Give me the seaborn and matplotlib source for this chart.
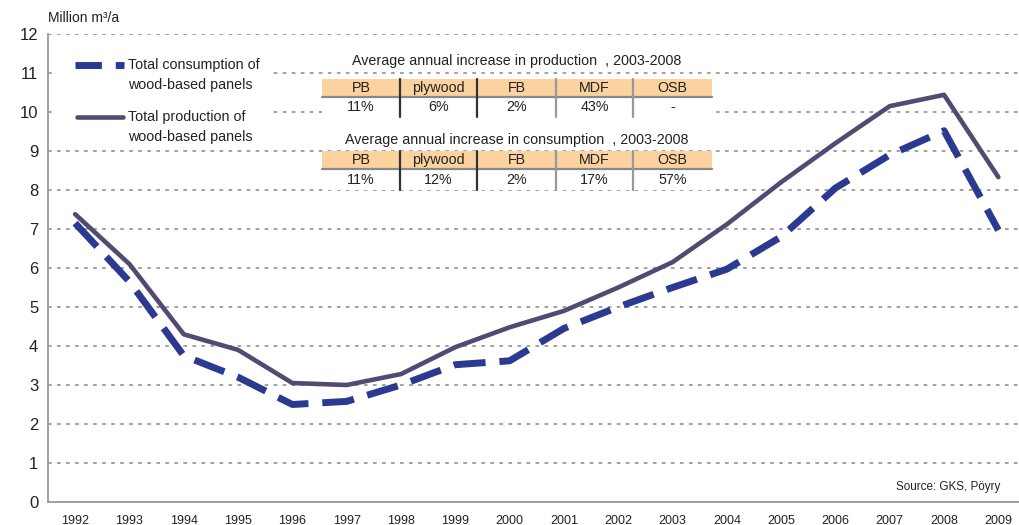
import numpy as np
import pandas as pd
import matplotlib
matplotlib.use("Agg")
import matplotlib.pyplot as plt
from matplotlib.patches import Rectangle
from matplotlib.lines import Line2D
import seaborn as sns

# data (million m3 per year)
years = list(range(1992, 2010))
consumption = [7.15, 5.65, 3.75, 3.2, 2.5, 2.58, 3.0, 3.52, 3.62, 4.45,
               5.0, 5.5, 5.97, 6.8, 8.05, 8.9, 9.52, 6.97]
production = [7.38, 6.1, 4.3, 3.9, 3.05, 3.0, 3.28, 3.97, 4.48, 4.9,
              5.5, 6.15, 7.12, 8.2, 9.2, 10.15, 10.44, 8.33]

panel_types = ["PB", "plywood", "FB", "MDF", "OSB"]
prod_increase = ["11%", "6%", "2%", "43%", "-"]
cons_increase = ["11%", "12%", "2%", "17%", "57%"]

cons_label = "Total consumption of\nwood-based panels"
prod_label = "Total production of\nwood-based panels"

df = pd.DataFrame({"year": years, "consumption": consumption, "production": production})

sns.set_style("white")
plt.rcParams["font.family"] = ["Liberation Sans", "DejaVu Sans"]

W, H = 1019, 525
fig = plt.figure(figsize=(W / 100, H / 100), dpi=100)
ax = fig.add_axes([48 / W, 23 / H, (W - 48) / W, (502 - 34) / H])


def fx(px):
    return px / W


def fy(py):
    return 1 - py / H


cons_color = "#2B3990"
prod_color = "#514B73"
cons_dash = (0, (4.6, 2.0))

sns.lineplot(data=df, x="year", y="production", ax=ax, color=prod_color,
             linewidth=3.3, zorder=3)
sns.lineplot(data=df, x="year", y="consumption", ax=ax, color=cons_color,
             linewidth=5.0, linestyle=cons_dash, zorder=3)

ax.set_xlim(1991.5, 2009.38)
ax.set_ylim(0, 12)
ax.set_yticks(range(0, 13))
ax.set_xticks(years)
ax.set_xticks([y + 0.5 for y in years[:-1]] + [1991.5], minor=True)
ax.tick_params(axis="x", which="major", length=0, labelsize=9, pad=9, colors="#222")
ax.tick_params(axis="x", which="minor", length=4, width=1, color="#999")
ax.tick_params(axis="y", length=3, width=1, color="#999", labelsize=12, pad=4, labelcolor="#222")
ax.set_xlabel("")
ax.set_ylabel("")

ax.yaxis.grid(True, linestyle=(0, (2, 3)), color="#999", linewidth=1.3)
ax.set_axisbelow(True)
for s in ["top", "right"]:
    ax.spines[s].set_visible(False)
for s in ["left", "bottom"]:
    ax.spines[s].set_color("#999")
    ax.spines[s].set_linewidth(1.3)

# legend, drawn by hand so the sample sits beside the first text line
fig.patches.append(Rectangle((fx(55), fy(150)), fx(273 - 55), (150 - 42) / H,
                             transform=fig.transFigure, facecolor="white",
                             edgecolor="none", zorder=4))
fig.lines.append(Line2D([fx(75), fx(124)], [fy(65), fy(65)], transform=fig.transFigure,
                        color=cons_color, linewidth=5.0, linestyle=(0, (3.8, 2.0)), zorder=5))
fig.lines.append(Line2D([fx(77), fx(123)], [fy(117), fy(117)], transform=fig.transFigure,
                        color=prod_color, linewidth=3.3, zorder=5))
for label, ytop in [(cons_label, 65), (prod_label, 117)]:
    fig.text(fx(128), fy(ytop - 7), label, fontsize=10.3, ha="left", va="top",
             linespacing=1.5, color="#222", zorder=6)

fig.text(fx(48), fy(18), "Million m³/a", fontsize=10, va="center", ha="left", color="#222")
fig.text(fx(1000), fy(487), "Source: GKS, Pöyry", fontsize=8.4, va="center", ha="right", color="#222")

# growth tables
col_edges = [322, 400, 477, 556, 633, 712]


def draw_table(title, title_y, head_top, head_bot, row_bot, values):
    fig.text(fx(517), fy(title_y), title, fontsize=10.3, ha="center", va="center",
             color="#222", zorder=6)
    fig.patches.append(Rectangle((fx(322), fy(head_bot)), fx(712 - 322), (head_bot - head_top) / H,
                                 transform=fig.transFigure, facecolor="#FCD29E",
                                 edgecolor="none", zorder=4))
    fig.patches.append(Rectangle((fx(322), fy(row_bot)), fx(712 - 322), (row_bot - head_bot) / H,
                                 transform=fig.transFigure, facecolor="white",
                                 edgecolor="none", zorder=4))
    fig.lines.append(Line2D([fx(322), fx(712)], [fy(head_bot), fy(head_bot)],
                            transform=fig.transFigure, color="#888", linewidth=1.6, zorder=5))
    for i, xe in enumerate(col_edges[1:-1]):
        fig.lines.append(Line2D([fx(xe), fx(xe)], [fy(head_top), fy(row_bot)],
                                transform=fig.transFigure,
                                color="#333" if i < 2 else "#999", linewidth=1.6, zorder=5))
    for i, (name, val) in enumerate(zip(panel_types, values)):
        cx = (col_edges[i] + col_edges[i + 1]) / 2
        fig.text(fx(cx), fy((head_top + head_bot) / 2), name, fontsize=10.3,
                 ha="center", va="center", color="#222", zorder=6)
        fig.text(fx(cx), fy((head_bot + row_bot) / 2), val, fontsize=10.3,
                 ha="center", va="center", color="#222", zorder=6)


draw_table("Average annual increase in production  , 2003-2008", 61, 79, 97, 117, prod_increase)
draw_table("Average annual increase in consumption  , 2003-2008", 140, 151, 169, 190, cons_increase)

fig.savefig("out.png", dpi=100)
